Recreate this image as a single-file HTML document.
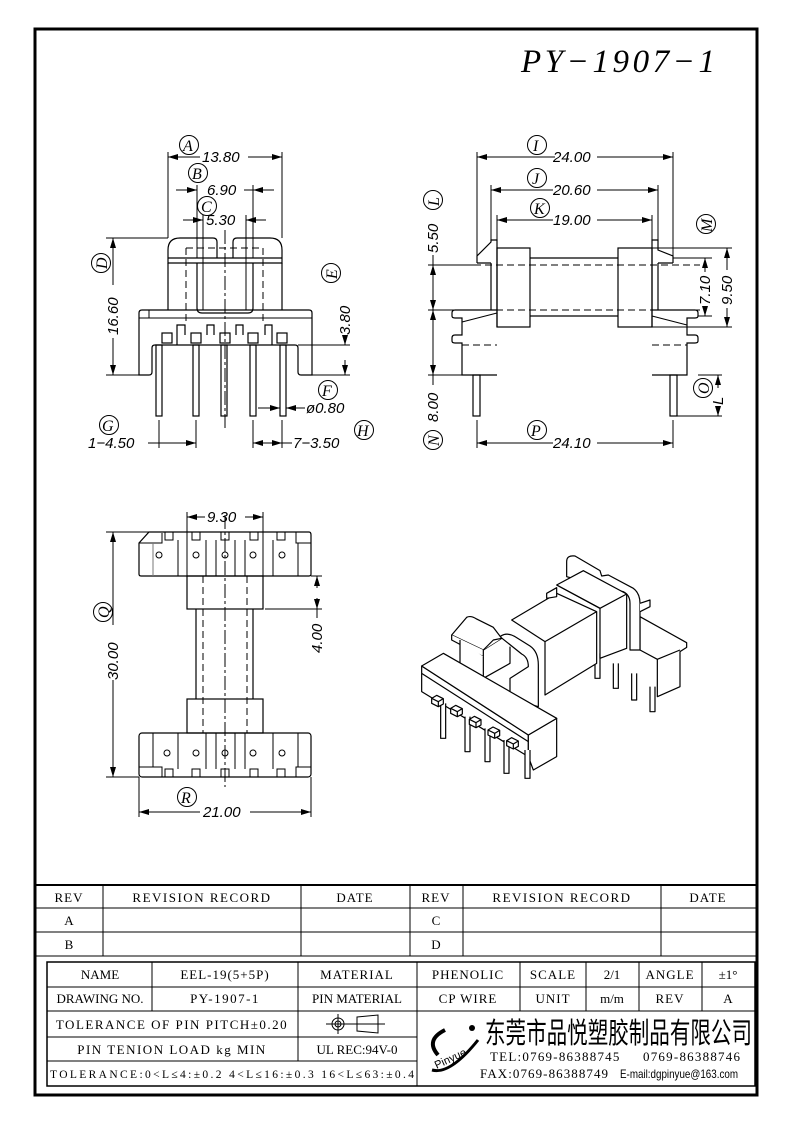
<!DOCTYPE html>
<html><head><meta charset="utf-8"><style>
html,body{margin:0;padding:0;background:#fff;}
svg{display:block;}
.l{stroke:#000;stroke-width:1.2;fill:none;}
.t{stroke:#000;stroke-width:1;fill:none;}
.d{stroke:#000;stroke-width:1;fill:none;stroke-dasharray:7 4;}
.c{stroke:#000;stroke-width:1;fill:none;stroke-dasharray:14 3 3 3;}
.dim{font-family:"Liberation Sans",sans-serif;font-style:italic;font-size:15px;fill:#000;}
.cir{font-family:"Liberation Serif",serif;font-style:italic;font-size:16px;fill:#000;}
.tb{font-family:"Liberation Serif",serif;font-size:13px;fill:#000;white-space:pre;}
</style></head><body>
<svg width="793" height="1123" viewBox="0 0 793 1123" xmlns="http://www.w3.org/2000/svg">
<defs>
<marker id="a" viewBox="0 0 10 6" refX="10" refY="3" markerWidth="10" markerHeight="6" orient="auto-start-reverse" markerUnits="userSpaceOnUse"><path d="M0,0 L10,3 L0,6 z" fill="#000"/></marker>
<g id="ci"><circle r="9.5" fill="none" stroke="#000" stroke-width="1"/></g>
</defs>
<rect x="0" y="0" width="793" height="1123" fill="#fff"/>
<rect x="35" y="29" width="722" height="1066" fill="none" stroke="#000" stroke-width="3"/>
<text x="521" y="72" font-family="Liberation Serif,serif" font-style="italic" font-size="33" textLength="194" lengthAdjust="spacing" fill="#000">PY−1907−1</text>

<!-- ===== VIEW 1 ===== -->
<g>
<line class="t" x1="168" y1="152" x2="168" y2="238"/><line class="t" x1="282" y1="152" x2="282" y2="238"/>
<line class="t" x1="200" y1="157" x2="168" y2="157" marker-end="url(#a)"/><line class="t" x1="248" y1="157" x2="282" y2="157" marker-end="url(#a)"/>
<text class="dim" x="202" y="162">13.80</text>
<use href="#ci" x="189" y="145"/><text class="cir" x="183" y="151">A</text>
<line class="t" x1="197" y1="185" x2="197" y2="258"/><line class="t" x1="253" y1="185" x2="253" y2="258"/>
<line class="t" x1="176" y1="190" x2="197" y2="190" marker-end="url(#a)"/><line class="t" x1="274" y1="190" x2="253" y2="190" marker-end="url(#a)"/><line class="t" x1="244" y1="190" x2="253" y2="190"/>
<text class="dim" x="207" y="195">6.90</text>
<use href="#ci" x="198" y="173"/><text class="cir" x="192" y="179">B</text>
<line class="t" x1="203" y1="215" x2="203" y2="310"/><line class="t" x1="246" y1="215" x2="246" y2="310"/>
<line class="t" x1="183" y1="220" x2="203" y2="220" marker-end="url(#a)"/><line class="t" x1="266" y1="220" x2="246" y2="220" marker-end="url(#a)"/>
<text class="dim" x="206" y="225">5.30</text>
<use href="#ci" x="207" y="206"/><text class="cir" x="201" y="212">C</text>
<path class="l" d="M168,258 L168,250 Q168,238 180,238 L213,238 Q217,238 217,242 L217,258 M233,258 L233,242 Q233,238 237,238 L270,238 Q282,238 282,250 L282,263 L168,263 L168,258 L282,258"/>
<line class="l" x1="168" y1="263" x2="168" y2="310"/><line class="l" x1="282" y1="263" x2="282" y2="310"/>
<path class="l" d="M197,263 L197,308 Q197,313 202,313 L248,313 Q253,313 253,308 L253,263"/>
<line class="d" x1="186" y1="248" x2="186" y2="325"/><line class="d" x1="263" y1="248" x2="263" y2="325"/>
<line class="d" x1="186" y1="248" x2="263" y2="248"/>
<line class="c" x1="225" y1="230" x2="225" y2="430"/>
<path class="l" d="M139,375 L139,313 Q139,310 142,310 L309,310 Q312,310 312,313 L312,375 L301,375 Q298,375 298,372 L298,348 Q298,345 295,345 L155,345 Q152,345 152,348 L152,372 Q152,375 149,375 Z"/>
<line class="t" x1="139" y1="318" x2="312" y2="318"/><line class="t" x1="149" y1="310" x2="149" y2="318"/>
<path class="l" d="M177,345 L177,325 L185,325 L185,335 M207,335 L207,325 L214,325 L214,335 M236,335 L236,325 L243,325 L243,335 M265,335 L265,325 L272,325 L272,345"/>
<g class="l"><rect x="162" y="333" width="10" height="10"/><rect x="191" y="333" width="10" height="10"/><rect x="220" y="333" width="10" height="10"/><rect x="248" y="333" width="10" height="10"/><rect x="277" y="333" width="10" height="10"/></g>
<g class="l"><rect x="156" y="345" width="6" height="71"/><rect x="193" y="345" width="6" height="71"/><rect x="221" y="345" width="6" height="71"/><rect x="250" y="345" width="6" height="71"/><rect x="280" y="345" width="6" height="71"/></g>
<line class="t" x1="106" y1="238" x2="168" y2="238"/><line class="t" x1="106" y1="375" x2="139" y2="375"/>
<line class="t" x1="113" y1="338" x2="113" y2="375" marker-end="url(#a)"/><line class="t" x1="113" y1="285" x2="113" y2="238" marker-end="url(#a)"/>
<text class="dim" transform="translate(118,335) rotate(-90)">16.60</text>
<use href="#ci" x="101" y="263"/><text class="cir" transform="translate(107,269) rotate(-90)">D</text>
<line class="t" x1="298" y1="345" x2="350" y2="345"/><line class="t" x1="312" y1="375" x2="350" y2="375"/>
<line class="t" x1="345" y1="360" x2="345" y2="375" marker-end="url(#a)"/><line class="t" x1="345" y1="335" x2="345" y2="345" marker-end="url(#a)"/>
<text class="dim" transform="translate(350,335) rotate(-90)">3.80</text>
<use href="#ci" x="331" y="273"/><text class="cir" transform="translate(337,279) rotate(-90)">E</text>
<line class="t" x1="258" y1="408" x2="280" y2="408" marker-end="url(#a)"/><line class="t" x1="305" y1="408" x2="286" y2="408" marker-end="url(#a)"/>
<text class="dim" x="306" y="413">ø0.80</text>
<use href="#ci" x="328" y="390"/><text class="cir" x="322" y="396">F</text>
<line class="t" x1="159" y1="420" x2="159" y2="448"/><line class="t" x1="196" y1="420" x2="196" y2="448"/>
<line class="t" x1="148" y1="443" x2="196" y2="443" marker-end="url(#a)"/>
<text class="dim" x="88" y="448">1−4.50</text>
<use href="#ci" x="109" y="425"/><text class="cir" x="102" y="431">G</text>
<line class="t" x1="253" y1="420" x2="253" y2="448"/><line class="t" x1="282" y1="420" x2="282" y2="448"/>
<line class="t" x1="253" y1="443" x2="270" y2="443" marker-start="url(#a)"/><line class="t" x1="265" y1="443" x2="282" y2="443" marker-end="url(#a)"/><line class="t" x1="282" y1="443" x2="292" y2="443"/>
<text class="dim" x="293" y="448">7−3.50</text>
<use href="#ci" x="364" y="430"/><text class="cir" x="357" y="436">H</text>
</g>

<!-- ===== VIEW 2 ===== -->
<g>
<line class="t" x1="477" y1="152" x2="477" y2="262"/><line class="t" x1="673" y1="152" x2="673" y2="262"/>
<line class="t" x1="555" y1="157" x2="477" y2="157" marker-end="url(#a)"/><line class="t" x1="597" y1="157" x2="673" y2="157" marker-end="url(#a)"/>
<text class="dim" x="553" y="162">24.00</text>
<use href="#ci" x="537" y="145"/><text class="cir" x="533" y="151">I</text>
<line class="t" x1="491" y1="185" x2="491" y2="240"/><line class="t" x1="658" y1="185" x2="658" y2="240"/>
<line class="t" x1="553" y1="190" x2="491" y2="190" marker-end="url(#a)"/><line class="t" x1="597" y1="190" x2="658" y2="190" marker-end="url(#a)"/>
<text class="dim" x="553" y="195">20.60</text>
<use href="#ci" x="537" y="178"/><text class="cir" x="532" y="184">J</text>
<line class="t" x1="497" y1="215" x2="497" y2="248"/><line class="t" x1="652" y1="215" x2="652" y2="248"/>
<line class="t" x1="553" y1="220" x2="497" y2="220" marker-end="url(#a)"/><line class="t" x1="597" y1="220" x2="652" y2="220" marker-end="url(#a)"/>
<text class="dim" x="553" y="225">19.00</text>
<use href="#ci" x="540" y="208"/><text class="cir" x="534" y="214">K</text>
<path class="l" d="M477,263 L477,256 L491,242 L491,240 L497,240 L497,327 M491,263 L477,263"/>
<line class="l" x1="491" y1="263" x2="491" y2="310"/>
<path class="l" d="M673,263 L673,256 L658,250 L658,240 L652,240 L652,327 M658,263 L673,263"/>
<line class="l" x1="658" y1="263" x2="658" y2="310"/>
<rect class="l" x="497" y="248" width="33" height="79"/>
<rect class="l" x="618" y="248" width="34" height="79"/>
<line class="l" x1="530" y1="258" x2="618" y2="258"/><line class="l" x1="530" y1="316" x2="618" y2="316"/>
<line class="d" x1="430" y1="265" x2="700" y2="265"/><line class="d" x1="430" y1="310" x2="700" y2="310"/>
<path class="l" d="M497,310 L455,310 Q452,310 452,313 L452,316 Q452,318 455,318 L462,318 L462,335 L455,335 Q452,335 452,338 L452,341 Q452,343 455,343 L462,343 L462,375 L497,375"/>
<line class="t" x1="462" y1="322" x2="497" y2="313"/><line class="d" x1="462" y1="345" x2="497" y2="345"/>
<path class="l" d="M652,310 L695,310 Q698,310 698,313 L698,316 Q698,318 695,318 L687,318 L687,335 L695,335 Q698,335 698,338 L698,341 Q698,343 695,343 L687,343 L687,375 L652,375"/>
<line class="t" x1="652" y1="316" x2="687" y2="325"/><line class="d" x1="652" y1="345" x2="687" y2="345"/>
<rect class="l" x="473" y="375" width="7" height="41"/><rect class="l" x="670" y="375" width="7" height="41"/>
<line class="t" x1="428" y1="265" x2="477" y2="265"/><line class="t" x1="428" y1="375" x2="462" y2="375"/><line class="t" x1="428" y1="310" x2="455" y2="310"/>
<line class="t" x1="433" y1="290" x2="433" y2="265" marker-end="url(#a)"/><line class="t" x1="433" y1="288" x2="433" y2="310" marker-end="url(#a)"/>
<line class="t" x1="433" y1="265" x2="433" y2="255"/>
<text class="dim" transform="translate(438,253) rotate(-90)">5.50</text>
<use href="#ci" x="433" y="200"/><text class="cir" transform="translate(439,206) rotate(-90)">L</text>
<line class="t" x1="433" y1="340" x2="433" y2="310" marker-end="url(#a)"/><line class="t" x1="433" y1="340" x2="433" y2="375" marker-end="url(#a)"/>
<line class="t" x1="433" y1="375" x2="433" y2="385"/>
<text class="dim" transform="translate(438,422) rotate(-90)">8.00</text>
<use href="#ci" x="433" y="440"/><text class="cir" transform="translate(439,446) rotate(-90)">N</text>
<use href="#ci" x="706" y="224"/><text class="cir" transform="translate(712,232) rotate(-90)">M</text>
<line class="t" x1="673" y1="258" x2="712" y2="258"/><line class="t" x1="698" y1="316" x2="712" y2="316"/>
<line class="t" x1="652" y1="248" x2="732" y2="248"/><line class="t" x1="652" y1="327" x2="732" y2="327"/>
<line class="t" x1="705" y1="272" x2="705" y2="258" marker-end="url(#a)"/><line class="t" x1="705" y1="306" x2="705" y2="316" marker-end="url(#a)"/>
<text class="dim" transform="translate(710,305) rotate(-90)">7.10</text>
<line class="t" x1="727" y1="270" x2="727" y2="248" marker-end="url(#a)"/><line class="t" x1="727" y1="308" x2="727" y2="327" marker-end="url(#a)"/>
<text class="dim" transform="translate(732,305) rotate(-90)">9.50</text>
<line class="t" x1="677" y1="416" x2="722" y2="416"/><line class="t" x1="698" y1="375" x2="722" y2="375"/>
<line class="t" x1="718" y1="388" x2="718" y2="375" marker-end="url(#a)"/><line class="t" x1="718" y1="406" x2="718" y2="416" marker-end="url(#a)"/>
<text class="dim" transform="translate(723,405) rotate(-90)">L</text>
<use href="#ci" x="703" y="388"/><text class="cir" transform="translate(709,394) rotate(-90)">O</text>
<line class="t" x1="477" y1="420" x2="477" y2="448"/><line class="t" x1="673" y1="420" x2="673" y2="448"/>
<line class="t" x1="553" y1="443" x2="477" y2="443" marker-end="url(#a)"/><line class="t" x1="597" y1="443" x2="673" y2="443" marker-end="url(#a)"/>
<text class="dim" x="553" y="448">24.10</text>
<use href="#ci" x="537" y="430"/><text class="cir" x="531" y="436">P</text>
</g>

<!-- ===== VIEW 3 ===== -->
<g>
<line class="t" x1="187" y1="512" x2="187" y2="576"/><line class="t" x1="263" y1="512" x2="263" y2="576"/>
<line class="t" x1="205" y1="517" x2="187" y2="517" marker-end="url(#a)"/><line class="t" x1="245" y1="517" x2="263" y2="517" marker-end="url(#a)"/>
<text class="dim" x="207" y="522">9.30</text>
<path class="l" d="M149,532 L309,532 Q311,532 311,535 L311,574 Q311,576 309,576 L141,576 Q139,576 139,574 L139,543 Z"/>
<path class="t" d="M139,543 L162,543 L162,533 M165,532 L165,540 L173,540 L173,532 M192,532 L192,540 L200,540 L200,532 M221,532 L221,540 L229,540 L229,532 M250,532 L250,540 L258,540 L258,532 M277,532 L277,540 L285,540 L285,532 M296,532 L296,543 L311,543"/>
<g class="t"><line x1="153" y1="543" x2="153" y2="576" stroke="#777"/><line x1="178" y1="540" x2="178" y2="576"/><line x1="206" y1="540" x2="206" y2="576"/><line x1="216" y1="540" x2="216" y2="576"/><line x1="235" y1="540" x2="235" y2="576"/><line x1="245" y1="540" x2="245" y2="576"/><line x1="273" y1="540" x2="273" y2="576"/><line x1="298" y1="543" x2="298" y2="576"/></g>
<g class="t"><circle cx="159" cy="555" r="3"/><circle cx="196" cy="555" r="3"/><circle cx="225" cy="555" r="3"/><circle cx="253" cy="555" r="3"/><circle cx="282" cy="555" r="3"/>
<circle cx="167" cy="753" r="3"/><circle cx="196" cy="753" r="3"/><circle cx="225" cy="753" r="3"/><circle cx="253" cy="753" r="3"/><circle cx="282" cy="753" r="3"/></g>
<rect class="l" x="187" y="576" width="76" height="33"/>
<line class="l" x1="196" y1="609" x2="196" y2="699"/><line class="l" x1="253" y1="609" x2="253" y2="699"/>
<rect class="l" x="187" y="699" width="76" height="34"/>
<rect class="l" x="139" y="733" width="172" height="44" rx="3"/>
<path class="t" d="M139,767 L162,767 L162,777 M165,777 L165,769 L173,769 L173,777 M192,777 L192,769 L200,769 L200,777 M221,777 L221,769 L229,769 L229,777 M250,777 L250,769 L258,769 L258,777 M277,777 L277,769 L285,769 L285,777 M296,777 L296,767 L311,767"/>
<g class="t"><line x1="153" y1="733" x2="153" y2="767"/><line x1="178" y1="733" x2="178" y2="769"/><line x1="206" y1="733" x2="206" y2="769"/><line x1="216" y1="733" x2="216" y2="769"/><line x1="235" y1="733" x2="235" y2="769"/><line x1="245" y1="733" x2="245" y2="769"/><line x1="273" y1="733" x2="273" y2="769"/><line x1="298" y1="733" x2="298" y2="767"/></g>
<line class="d" x1="203" y1="576" x2="203" y2="733"/><line class="d" x1="247" y1="576" x2="247" y2="733"/>
<line class="c" x1="225" y1="515" x2="225" y2="787"/>
<line class="t" x1="106" y1="532" x2="149" y2="532"/><line class="t" x1="106" y1="777" x2="139" y2="777"/>
<line class="t" x1="113" y1="625" x2="113" y2="532" marker-end="url(#a)"/><line class="t" x1="113" y1="680" x2="113" y2="777" marker-end="url(#a)"/>
<text class="dim" transform="translate(118,680) rotate(-90)">30.00</text>
<use href="#ci" x="103" y="612"/><text class="cir" transform="translate(109,618) rotate(-90)">Q</text>
<line class="t" x1="311" y1="576" x2="322" y2="576"/><line class="t" x1="265" y1="609" x2="322" y2="609"/>
<line class="t" x1="317" y1="588" x2="317" y2="576" marker-end="url(#a)"/><line class="t" x1="317" y1="598" x2="317" y2="609" marker-end="url(#a)"/>
<line class="t" x1="317" y1="609" x2="317" y2="618"/>
<text class="dim" transform="translate(322,653) rotate(-90)">4.00</text>
<line class="t" x1="139" y1="777" x2="139" y2="817"/><line class="t" x1="311" y1="777" x2="311" y2="817"/>
<line class="t" x1="200" y1="812" x2="139" y2="812" marker-end="url(#a)"/><line class="t" x1="250" y1="812" x2="311" y2="812" marker-end="url(#a)"/>
<text class="dim" x="203" y="817">21.00</text>
<use href="#ci" x="187" y="797"/><text class="cir" x="181" y="803">R</text>
</g>

<!-- ===== VIEW 4 (iso) in zoom coords ===== -->
<g transform="translate(400,540) scale(0.33333)" fill="#fff" stroke="#000" stroke-width="3.6" stroke-linejoin="round">
<!-- right pins -->
<path d="M585,340 L585,415 L600,415 L600,340"/>
<path d="M640,370 L640,445 L655,445 L655,370"/>
<path d="M695,400 L695,480 L710,480 L710,400"/>
<path d="M750,440 L750,515 L765,515 L765,440"/>
<!-- right base -->
<path d="M720,230 L860,308 L860,322 L840,335 L840,440 L772,470 L772,358 L720,330 Z"/>
<path d="M772,358 L840,330"/>
<!-- right flange -->
<path d="M500,110 L500,65 Q500,45 525,48 L600,92 L605,108 L625,105 L700,145 Q720,160 720,190 L720,330 L690,330 L690,190 Q690,165 670,155 Z"/>
<path d="M720,190 L750,180 L750,200 L720,215"/>
<!-- core body -->
<path d="M335,240 L470,160 L590,215 L590,370 L435,465 L435,305 Z"/>
<path d="M435,305 L590,215"/>
<!-- right block -->
<path d="M470,135 L550,92 L680,162 L680,325 L600,355 L600,205 Z"/>
<path d="M470,135 L600,205"/>
<path d="M440,160 L470,143 L470,170 L440,175 Z"/>
<path d="M600,205 L680,162"/>
<!-- left flange -->
<path d="M300,290 Q320,275 345,290 L390,318 Q415,335 415,375 L415,500 L330,475 L330,415 L385,380 Q385,352 365,342 Z"/>
<!-- left cap -->
<path d="M155,285 L200,232 Q212,226 228,236 L280,262 L305,295 L250,330 Z"/>
<path d="M155,285 L155,300 L250,350 L250,330"/>
<path d="M180,300 L180,375 L250,415 L250,350"/>
<path d="M250,415 L330,370 L330,320"/>
<path d="M250,330 L280,300 L305,295"/>
<!-- front base -->
<path d="M65,378 L65,455 L385,650 L385,585 Z"/>
<path d="M385,585 L470,535 L470,650 L400,690 L385,650 Z"/>
<path d="M65,378 L130,340 L470,535 L385,585 Z"/>
<path d="M65,400 L385,605" fill="none"/>
<!-- front pins -->
<path d="M122,490 L122,595 L137,595 L137,490"/>
<path d="M195,530 L195,635 L210,635 L210,530"/>
<path d="M255,565 L255,665 L270,665 L270,565"/>
<path d="M312,600 L312,700 L327,700 L327,600"/>
<path d="M375,630 L375,715 L390,715 L390,630"/>
<g>
<path d="M95,475 L110,466 L130,476 L130,492 L115,500 L95,490 Z"/><path d="M95,475 L115,485 L130,476 M115,485 L115,500" fill="none"/>
<path d="M152,505 L167,496 L187,506 L187,522 L172,530 L152,520 Z"/><path d="M152,505 L172,515 L187,506 M172,515 L172,530" fill="none"/>
<path d="M208,538 L223,529 L243,539 L243,555 L228,563 L208,553 Z"/><path d="M208,538 L228,548 L243,539 M228,548 L228,563" fill="none"/>
<path d="M264,570 L279,561 L299,571 L299,587 L284,595 L264,585 Z"/><path d="M264,570 L284,580 L299,571 M284,580 L284,595" fill="none"/>
<path d="M320,602 L335,593 L355,603 L355,619 L340,627 L320,617 Z"/><path d="M320,602 L340,612 L355,603 M340,612 L340,627" fill="none"/>
</g>
</g>

<!-- ===== TABLES ===== -->
<g stroke="#000" stroke-width="1" fill="none">
<line x1="35" y1="885" x2="757" y2="885" stroke-width="2"/>
<line x1="35" y1="908" x2="757" y2="908"/><line x1="35" y1="932" x2="757" y2="932"/><line x1="35" y1="956" x2="757" y2="956"/>
<line x1="103" y1="885" x2="103" y2="956"/><line x1="301" y1="885" x2="301" y2="956"/><line x1="410" y1="885" x2="410" y2="956"/><line x1="463" y1="885" x2="463" y2="956"/><line x1="661" y1="885" x2="661" y2="956"/>
<rect x="47" y="962" width="708" height="124" stroke-width="1.5"/>
<line x1="47" y1="987" x2="755" y2="987"/><line x1="47" y1="1011" x2="755" y2="1011"/>
<line x1="47" y1="1037" x2="417" y2="1037"/><line x1="47" y1="1061" x2="417" y2="1061"/>
<line x1="152" y1="962" x2="152" y2="1011"/><line x1="298" y1="962" x2="298" y2="1061"/><line x1="417" y1="962" x2="417" y2="1086"/>
<line x1="520" y1="962" x2="520" y2="1011"/><line x1="586" y1="962" x2="586" y2="1011"/><line x1="639" y1="962" x2="639" y2="1011"/><line x1="702" y1="962" x2="702" y2="1011"/>
<circle cx="338" cy="1024" r="6"/><circle cx="338" cy="1024" r="3"/>
<line x1="326" y1="1024" x2="385" y2="1024"/><line x1="338" y1="1014" x2="338" y2="1034"/>
<path d="M357,1017 L378,1015 L378,1033 L357,1031 Z"/>
</g>
<g class="tb" text-anchor="middle">
<text x="69" y="902" letter-spacing="1">REV</text><text x="202" y="902" letter-spacing="1.5">REVISION RECORD</text><text x="355" y="902" letter-spacing="1">DATE</text><text x="436" y="902" letter-spacing="1">REV</text><text x="562" y="902" letter-spacing="1.5">REVISION RECORD</text><text x="708" y="902" letter-spacing="1">DATE</text>
<text x="69" y="925">A</text><text x="69" y="949">B</text><text x="436" y="925">C</text><text x="436" y="949">D</text>
<text x="100" y="979">NAME</text><text x="225" y="979" letter-spacing="1">EEL-19(5+5P)</text><text x="357" y="979" letter-spacing="1">MATERIAL</text><text x="468" y="979" letter-spacing="1">PHENOLIC</text><text x="553" y="979" letter-spacing="1">SCALE</text><text x="612" y="979">2/1</text><text x="670" y="979" letter-spacing="1">ANGLE</text><text x="728" y="979">±1°</text>
<text x="100" y="1003">DRAWING NO.</text><text x="225" y="1003" letter-spacing="1.5">PY-1907-1</text><text x="357" y="1003">PIN MATERIAL</text><text x="468" y="1003" letter-spacing="1">CP WIRE</text><text x="553" y="1003" letter-spacing="1">UNIT</text><text x="612" y="1003">m/m</text><text x="670" y="1003" letter-spacing="1">REV</text><text x="728" y="1003">A</text>
<text x="172" y="1029" letter-spacing="1.5">TOLERANCE OF PIN PITCH±0.20</text>
<text x="172" y="1054" letter-spacing="1.5">PIN TENION LOAD     kg MIN</text>
<text x="357" y="1054">UL REC:94V-0</text>
<text x="232" y="1078" font-size="11.5" textLength="364" lengthAdjust="spacing">TOLERANCE:0&lt;L≤4:±0.2  4&lt;L≤16:±0.3  16&lt;L≤63:±0.4</text>
</g>
<path d="M438,1055 Q425,1040 445,1030" fill="none" stroke="#000" stroke-width="4"/>
<path d="M432,1070 Q450,1075 478,1040" fill="none" stroke="#000" stroke-width="3"/>
<circle cx="472" cy="1028" r="3" fill="#000"/>
<text x="432" y="1062" font-family="Liberation Sans,sans-serif" font-size="11" fill="#000" transform="rotate(-25 450 1055)">Pinyue</text>
<text x="485" y="1043" font-family="Liberation Sans,'Noto Sans CJK SC',sans-serif" font-size="29" textLength="267" lengthAdjust="spacingAndGlyphs" fill="#000">东莞市品悦塑胶制品有限公司</text>
<text x="490" y="1061" class="tb" font-size="12" textLength="250" lengthAdjust="spacing">TEL:0769-86388745     0769-86388746</text>
<text x="480" y="1078" class="tb" font-size="12" textLength="128" lengthAdjust="spacing">FAX:0769-86388749</text>
<text x="620" y="1078" font-family="Liberation Sans,sans-serif" font-size="12" textLength="118" lengthAdjust="spacingAndGlyphs" fill="#000">E-mail:dgpinyue@163.com</text>
</svg>
</body></html>
